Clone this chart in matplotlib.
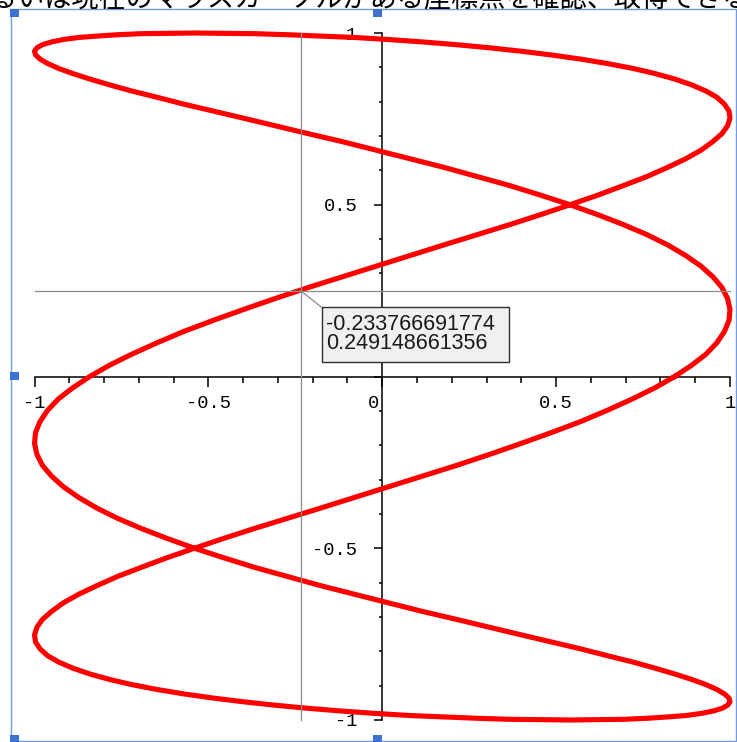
#!/usr/bin/env python3
"""Maple-style parametric plot with a cursor read-out box."""

import matplotlib
matplotlib.use('Agg')
import matplotlib.pyplot as plt
from matplotlib.patches import Rectangle
from matplotlib.ticker import MultipleLocator

# curve points (one full loop)
curve_x = [0.841, 0.890, 0.931, 0.962, 0.984, 0.997, 1.000, 0.993, 0.977, 0.951, 0.917, 0.873,
           0.821, 0.761, 0.694, 0.620, 0.540, 0.455, 0.366, 0.273, 0.177, 0.080, -0.018, -0.116,
           -0.213, -0.308, -0.399, -0.487, -0.571, -0.648, -0.720, -0.784, -0.841, -0.890, -0.931, -0.962,
           -0.984, -0.997, -1.000, -0.993, -0.977, -0.951, -0.917, -0.873, -0.821, -0.761, -0.694, -0.620,
           -0.540, -0.455, -0.366, -0.273, -0.177, -0.080, 0.018, 0.116, 0.213, 0.308, 0.399, 0.487,
           0.571, 0.648, 0.720, 0.784, 0.841, 0.890, 0.931, 0.962, 0.984, 0.997, 1.000, 0.993,
           0.977, 0.951, 0.917, 0.873, 0.821, 0.761, 0.694, 0.620, 0.540, 0.455, 0.366, 0.273,
           0.177, 0.080, -0.018, -0.116, -0.213, -0.308, -0.399, -0.487, -0.571, -0.648, -0.720, -0.784,
           -0.841, -0.890, -0.931, -0.962, -0.984, -0.997, -1.000, -0.993, -0.977, -0.951, -0.917, -0.873,
           -0.821, -0.761, -0.694, -0.620, -0.540, -0.455, -0.366, -0.273, -0.177, -0.080, 0.018, 0.116,
           0.213, 0.308, 0.399, 0.487, 0.571, 0.648, 0.720, 0.784, 0.841, 0.890, 0.931, 0.962,
           0.984, 0.997, 1.000, 0.993, 0.977, 0.951, 0.917, 0.873, 0.821, 0.761, 0.694, 0.620,
           0.540, 0.455, 0.366, 0.273, 0.177, 0.080, -0.018, -0.116, -0.213, -0.308, -0.399, -0.487,
           -0.571, -0.648, -0.720, -0.784, -0.841, -0.890, -0.931, -0.962, -0.984, -0.997, -1.000, -0.993,
           -0.977, -0.951, -0.917, -0.873, -0.821, -0.761, -0.694, -0.620, -0.540, -0.455, -0.366, -0.273,
           -0.177, -0.080, 0.018, 0.116, 0.213, 0.308, 0.399, 0.487, 0.571, 0.648, 0.720, 0.784,
           0.841]
curve_y = [0.000, 0.033, 0.065, 0.098, 0.131, 0.163, 0.195, 0.227, 0.259, 0.290, 0.321, 0.352,
           0.383, 0.413, 0.442, 0.471, 0.500, 0.528, 0.556, 0.582, 0.609, 0.634, 0.659, 0.684,
           0.707, 0.730, 0.752, 0.773, 0.793, 0.813, 0.831, 0.849, 0.866, 0.882, 0.897, 0.911,
           0.924, 0.936, 0.947, 0.957, 0.966, 0.974, 0.981, 0.987, 0.991, 0.995, 0.998, 0.999,
           1.000, 0.999, 0.998, 0.995, 0.991, 0.987, 0.981, 0.974, 0.966, 0.957, 0.947, 0.936,
           0.924, 0.911, 0.897, 0.882, 0.866, 0.849, 0.831, 0.813, 0.793, 0.773, 0.752, 0.730,
           0.707, 0.684, 0.659, 0.634, 0.609, 0.582, 0.556, 0.528, 0.500, 0.471, 0.442, 0.413,
           0.383, 0.352, 0.321, 0.290, 0.259, 0.227, 0.195, 0.163, 0.131, 0.098, 0.065, 0.033,
           0.000, -0.033, -0.065, -0.098, -0.131, -0.163, -0.195, -0.227, -0.259, -0.290, -0.321, -0.352,
           -0.383, -0.413, -0.442, -0.471, -0.500, -0.528, -0.556, -0.582, -0.609, -0.634, -0.659, -0.684,
           -0.707, -0.730, -0.752, -0.773, -0.793, -0.813, -0.831, -0.849, -0.866, -0.882, -0.897, -0.911,
           -0.924, -0.936, -0.947, -0.957, -0.966, -0.974, -0.981, -0.987, -0.991, -0.995, -0.998, -0.999,
           -1.000, -0.999, -0.998, -0.995, -0.991, -0.987, -0.981, -0.974, -0.966, -0.957, -0.947, -0.936,
           -0.924, -0.911, -0.897, -0.882, -0.866, -0.849, -0.831, -0.813, -0.793, -0.773, -0.752, -0.730,
           -0.707, -0.684, -0.659, -0.634, -0.609, -0.582, -0.556, -0.528, -0.500, -0.471, -0.442, -0.413,
           -0.383, -0.352, -0.321, -0.290, -0.259, -0.227, -0.195, -0.163, -0.131, -0.098, -0.065, -0.033,
           0.000]

# cursor position shown in the read-out box
cursor_x = -0.233766691774
cursor_y = 0.249148661356

major_ticks = [-1, -0.5, 0, 0.5, 1]
x_tick_labels = ['-1', '-0.5', '', '0.5', '1']
y_tick_labels = ['-1', '-0.5', '', '0.5', '1']

caption = 'るいは現在のマウスカーソルがある座標点を確認、取得できる'

W, H = 737, 742
fig = plt.figure(figsize=(W / 100, H / 100), dpi=100)

# cut-off line of document text above the plot
fig.text(-10 / W, 1 - 6 / H, caption, family=['Noto Sans CJK JP', 'DejaVu Sans'],
         fontsize=19.5, va='baseline', ha='left', color='black')

ax = fig.add_axes([34.5 / W, (H - 720) / H, 695.5 / W, 687 / H])
ax.set_xlim(-1, 1)
ax.set_ylim(-1, 1)
ax.patch.set_visible(False)

for side in ['top', 'right']:
    ax.spines[side].set_visible(False)
ax.spines['left'].set_position(('data', 0))
ax.spines['bottom'].set_position(('data', 0))
for side in ['left', 'bottom']:
    ax.spines[side].set_linewidth(1.1)

tick_font = {'family': 'Liberation Mono', 'size': 13.5}
ax.set_xticks(major_ticks)
ax.set_xticklabels(x_tick_labels, fontdict=tick_font)
ax.set_yticks(major_ticks)
ax.set_yticklabels(y_tick_labels, fontdict=tick_font)
ax.xaxis.set_minor_locator(MultipleLocator(0.1))
ax.yaxis.set_minor_locator(MultipleLocator(0.1))
ax.tick_params(axis='x', which='major', direction='out', length=7, width=1.1, pad=6)
ax.tick_params(axis='x', which='minor', direction='out', length=4.5, width=1.1)
ax.tick_params(axis='y', which='major', direction='out', length=6, width=1.1, pad=12)
ax.tick_params(axis='y', which='minor', direction='out', length=2.5, width=1.1)
ax.annotate('0', xy=(0, 0), xytext=(-2, -13), textcoords='offset points',
            ha='right', va='top', fontfamily='Liberation Mono', fontsize=13.5)

# the curve
ax.plot(curve_x, curve_y, color='#ff0000', lw=3.7, solid_joinstyle='round',
        clip_on=False, zorder=3)

# crosshair and read-out box
ax.plot([cursor_x, cursor_x], [-1, 1], color='#8c8c8c', lw=0.9, zorder=4, clip_on=False)
ax.plot([-1, 1], [cursor_y, cursor_y], color='#8c8c8c', lw=0.9, zorder=4, clip_on=False)
box_x0, box_x1, box_y0, box_y1 = -0.1735, 0.3646, 0.0408, 0.2009
ax.plot([cursor_x, box_x0], [cursor_y, box_y1], color='#8c8c8c', lw=0.9, zorder=4)
ax.add_patch(Rectangle((box_x0, box_y0), box_x1 - box_x0, box_y1 - box_y0,
                       facecolor='#f0f0f0', edgecolor='#303030', lw=1.0, zorder=5))
ax.text(box_x0 + 0.012, (box_y0 + box_y1) / 2 + 0.003,
        f'{cursor_x:.12f}\n{cursor_y:.12f}', family='Liberation Sans', fontsize=15.5,
        ha='left', va='center', linespacing=0.85, color='#1a1a1a', zorder=6)

# selection frame with grab handles
frame_color = '#6f9be0'
handle_color = '#3c72d4'
fig.add_artist(Rectangle((11 / W, 1 - 741 / H), 725 / W, 732 / H, transform=fig.transFigure,
                         fill=False, edgecolor=frame_color, lw=1.0))
for hx, hy in [(10, 9), (373, 9), (10, 372), (10, 735), (373, 735)]:
    fig.add_artist(Rectangle((hx / W, 1 - (hy + 8) / H), 9 / W, 8 / H,
                             transform=fig.transFigure, facecolor=handle_color,
                             edgecolor='none'))

fig.savefig('out.png', dpi=100)
